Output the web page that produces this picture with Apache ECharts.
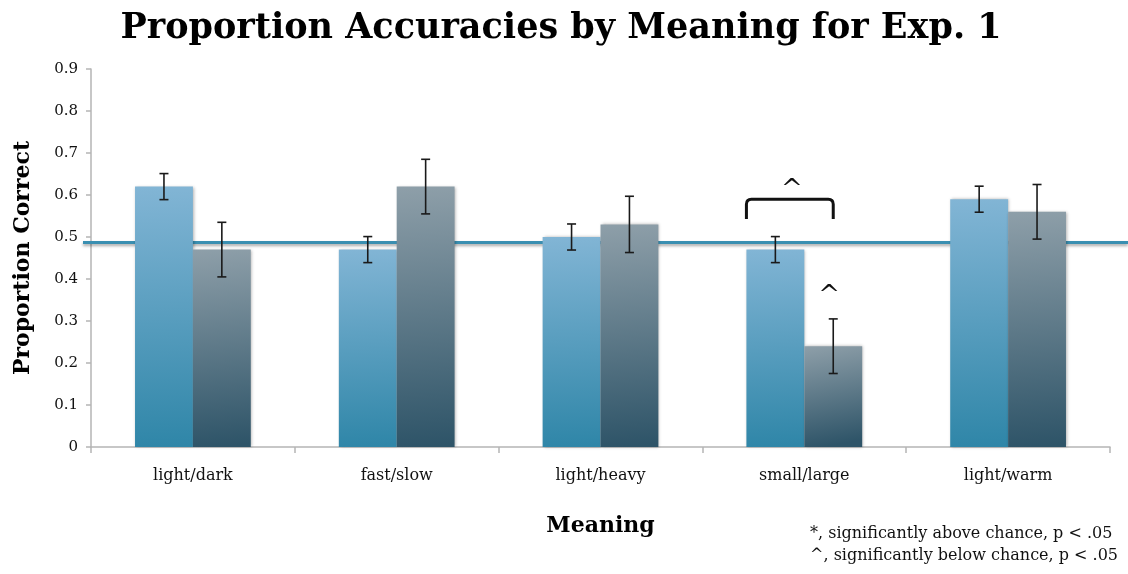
<!DOCTYPE html>
<html>
<head>
<meta charset="utf-8">
<script src="https://cdn.jsdelivr.net/npm/echarts@6/dist/echarts.min.js"></script>
<style>
  html, body { margin: 0; padding: 0; background: #fff; }
  #chart { width: 1128px; height: 574px; }
</style>
</head>
<body>
<div id="chart"></div>
<script>
// Meaning pairs on the x axis
const categories = ['light/dark', 'fast/slow', 'light/heavy', 'small/large', 'light/warm'];
// Proportion correct, first pairing (blue) and second pairing (grey)
const firstValues  = [0.62, 0.47, 0.50, 0.47, 0.59];
const secondValues = [0.47, 0.62, 0.53, 0.24, 0.56];
// Half-widths of the error bars
const firstErrors  = [0.031, 0.031, 0.031, 0.031, 0.031];
const secondErrors = [0.065, 0.065, 0.067, 0.065, 0.065];
// Chance level
const chanceLevel = 0.487;
// Y axis ticks
const yTicks = [0, 0.1, 0.2, 0.3, 0.4, 0.5, 0.6, 0.7, 0.8, 0.9];
// Below-chance markers: bracket over the small/large pair, caret over its grey bar
const bracketMark = { category: 3, value: 0.59, legValue: 0.543 };
const caretMarks = [
  { category: 3, value: 0.612, where: 'bracket' },
  { category: 3, value: 0.36, where: 'second' }
];
const footnotes = ['*, significantly above chance, p < .05', '^, significantly below chance, p < .05'];

const SERIF = '"DejaVu Serif", "Liberation Serif", serif';
const BAR_FRAC = 0.284; // each bar's share of a category

const chart = echarts.init(document.getElementById('chart'));

const blueFill = new echarts.graphic.LinearGradient(0, 0, 0.15, 1, [
  { offset: 0, color: '#82b5d5' },
  { offset: 1, color: '#2f86a8' }
]);
const greyFill = new echarts.graphic.LinearGradient(0, 0, 0.3, 1, [
  { offset: 0, color: '#8e9fa9' },
  { offset: 1, color: '#2e5468' }
]);

function errorSeries(values, errors, side) {
  return {
    type: 'custom',
    xAxisIndex: 0, yAxisIndex: 0,
    z: 5,
    silent: true,
    data: values.map((v, i) => [i, v, errors[i]]),
    renderItem: function (params, api) {
      const cat = api.value(0), v = api.value(1), e = api.value(2);
      const catW = api.size([1, 0])[0];
      const x = api.coord([cat, v])[0] + side * catW * BAR_FRAC / 2;
      const yHi = api.coord([cat, v + e])[1];
      const yLo = api.coord([cat, v - e])[1];
      const cap = 4.5;
      const st = { stroke: '#1a1a1a', lineWidth: 1.6 };
      return {
        type: 'group',
        children: [
          { type: 'line', shape: { x1: x, y1: yHi, x2: x, y2: yLo }, style: st },
          { type: 'line', shape: { x1: x - cap, y1: yHi, x2: x + cap, y2: yHi }, style: st },
          { type: 'line', shape: { x1: x - cap, y1: yLo, x2: x + cap, y2: yLo }, style: st }
        ]
      };
    }
  };
}

const option = {
  animation: false,
  backgroundColor: '#ffffff',
  title: {
    text: 'Proportion Accuracies by Meaning for Exp. 1',
    left: 556, top: 6, textAlign: 'center',
    textStyle: { fontFamily: SERIF, fontWeight: 'bold', fontSize: 35, color: '#000' }
  },
  grid: [
    { left: 91, right: 18, top: 69, bottom: 127 },
    { left: 83, right: 0, top: 69, bottom: 127 }
  ],
  xAxis: [
    {
      type: 'category', gridIndex: 0, data: categories,
      name: 'Meaning', nameLocation: 'middle', nameGap: 68,
      nameTextStyle: { fontFamily: SERIF, fontWeight: 'bold', fontSize: 22, color: '#000' },
      axisLine: { lineStyle: { color: '#b5b5b5', width: 1.5 } },
      axisTick: { show: true, length: 6, lineStyle: { color: '#b5b5b5', width: 1.5 } },
      axisLabel: { fontFamily: SERIF, fontSize: 16, color: '#111', margin: 21 }
    },
    { type: 'value', gridIndex: 1, min: 0, max: 1, show: false }
  ],
  yAxis: [
    {
      type: 'value', gridIndex: 0, min: 0, max: 0.9, interval: 0.1,
      name: 'Proportion Correct', nameLocation: 'middle', nameGap: 57, nameRotate: 90,
      nameTextStyle: { fontFamily: SERIF, fontWeight: 'bold', fontSize: 22, color: '#000' },
      axisLine: { show: true, lineStyle: { color: '#b5b5b5', width: 1.5 } },
      axisTick: { show: true, length: 5, lineStyle: { color: '#b5b5b5', width: 1.5 } },
      splitLine: { show: false },
      axisLabel: {
        fontFamily: SERIF, fontSize: 15, color: '#111', margin: 13,
        formatter: function (v) {
          const t = yTicks.find(k => Math.abs(k - v) < 1e-9);
          return t === 0 ? '0' : String(+t.toFixed(1));
        }
      }
    },
    { type: 'value', gridIndex: 1, min: 0, max: 0.9, show: false }
  ],
  series: [
    {
      name: 'chance',
      type: 'line', xAxisIndex: 1, yAxisIndex: 1, z: 1,
      symbol: 'none', silent: true,
      data: [[0, chanceLevel], [1, chanceLevel]],
      lineStyle: {
        color: '#3a8fb1', width: 3,
        shadowColor: 'rgba(0,0,0,0.35)', shadowBlur: 3, shadowOffsetY: 2
      }
    },
    {
      name: 'Series 1', type: 'bar', xAxisIndex: 0, yAxisIndex: 0, z: 3,
      data: firstValues, barWidth: (BAR_FRAC * 100) + '%', barGap: '0%',
      itemStyle: {
        color: blueFill,
        shadowColor: 'rgba(0,0,0,0.3)', shadowBlur: 3, shadowOffsetX: 1, shadowOffsetY: 0
      }
    },
    {
      name: 'Series 2', type: 'bar', xAxisIndex: 0, yAxisIndex: 0, z: 3,
      data: secondValues, barWidth: (BAR_FRAC * 100) + '%', barGap: '0%',
      itemStyle: {
        color: greyFill,
        shadowColor: 'rgba(0,0,0,0.3)', shadowBlur: 3, shadowOffsetX: 1, shadowOffsetY: 0
      }
    },
    errorSeries(firstValues, firstErrors, -1),
    errorSeries(secondValues, secondErrors, 1),
    {
      // bracket and carets marking below-chance results
      type: 'custom', xAxisIndex: 0, yAxisIndex: 0, z: 6, silent: true,
      data: [[bracketMark.category, bracketMark.value, bracketMark.legValue]],
      renderItem: function (params, api) {
        const cat = api.value(0);
        const catW = api.size([1, 0])[0];
        const barW = catW * BAR_FRAC;
        const cx = api.coord([cat, 0])[0];
        const left = cx - barW, right = cx + barW / 2;
        const top = api.coord([cat, api.value(1)])[1];
        const bot = api.coord([cat, api.value(2)])[1];
        const r = 5;
        const children = [{
          type: 'path',
          shape: {
            pathData: 'M' + left + ' ' + bot + ' L' + left + ' ' + (top + r) +
              ' Q' + left + ' ' + top + ' ' + (left + r) + ' ' + top +
              ' L' + (right - r) + ' ' + top +
              ' Q' + right + ' ' + top + ' ' + right + ' ' + (top + r) +
              ' L' + right + ' ' + bot
          },
          style: { fill: null, stroke: '#111', lineWidth: 3, lineJoin: 'round' }
        }];
        caretMarks.forEach(function (m) {
          const x = m.where === 'bracket' ? (left + right) / 2 + 2 : cx + barW / 2 - 4;
          const y = api.coord([m.category, m.value])[1];
          children.push({
            type: 'text',
            style: {
              text: '^', x: x, y: y, align: 'center', verticalAlign: 'middle',
              font: '26px ' + SERIF, fill: '#111'
            }
          });
        });
        return { type: 'group', children: children };
      }
    }
  ],
  graphic: [
    {
      type: 'text', right: 10, top: 523,
      style: {
        text: footnotes.join('\n'), align: 'left',
        font: '16px ' + SERIF, fill: '#111', lineHeight: 22
      }
    }
  ]
};

chart.setOption(option);
</script>
</body>
</html>
